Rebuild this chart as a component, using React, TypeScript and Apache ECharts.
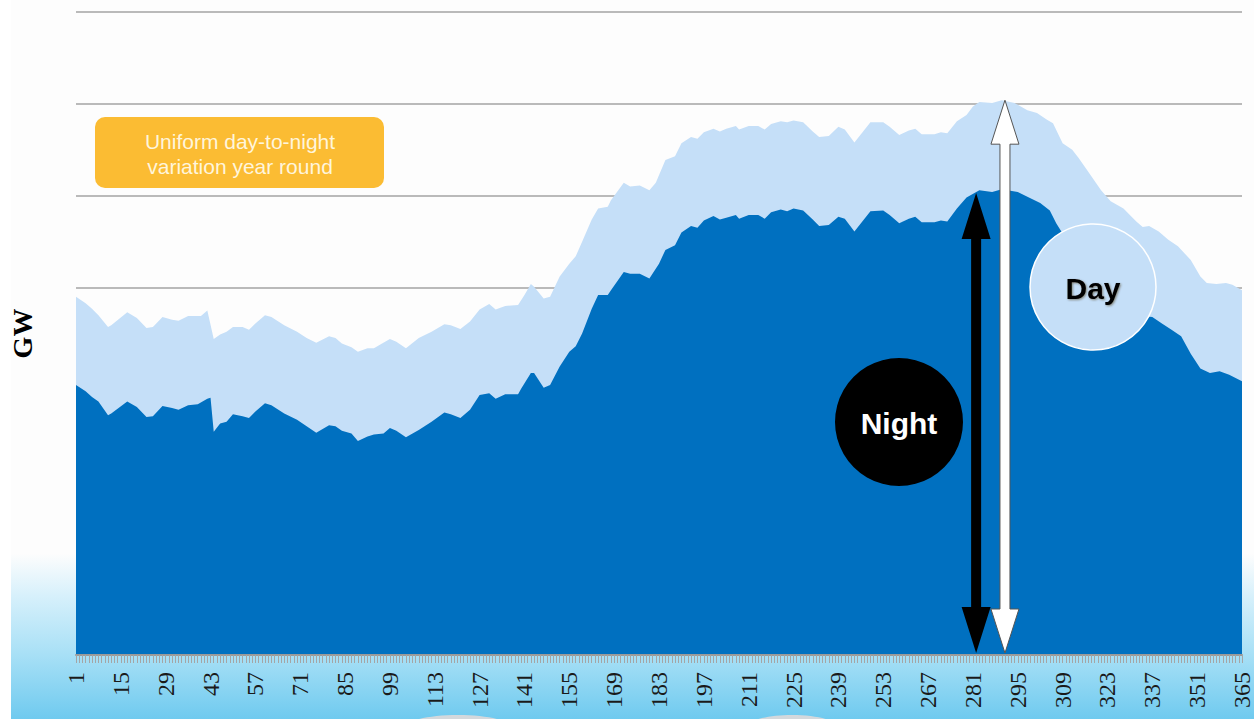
import React, { useEffect, useRef } from "react";
import * as echarts from "echarts";

// Categories: day of year
const dayCategories: string[] = Array.from({ length: 365 }, (_, i) => String(i + 1));

// Night-time demand (GW), [day, value]
const nightPoints: [number, number][] = [
  [1, 29.4], [4, 28.7], [6, 28.1], [8, 27.6], [11, 26.1], [12, 26.3], [17, 27.6], [20, 27.0],
  [23, 25.9], [25, 26.0], [28, 27.1], [31, 26.9], [33, 26.7], [36, 27.2], [39, 27.3], [42, 27.9],
  [43, 28.0], [44, 24.3], [46, 25.2], [48, 25.4], [50, 26.2], [53, 26.0], [55, 25.8], [57, 26.5],
  [60, 27.4], [62, 27.2], [66, 26.3], [70, 25.6], [73, 24.9], [76, 24.2], [80, 25.0], [82, 24.9],
  [84, 24.4], [87, 24.1], [89, 23.3], [92, 23.8], [94, 24.0], [97, 24.1], [99, 24.7], [101, 24.4],
  [104, 23.7], [108, 24.5], [112, 25.4], [116, 26.4], [118, 26.2], [121, 25.8], [124, 26.7], [127, 28.3],
  [130, 28.5], [132, 27.9], [135, 28.4], [139, 28.4], [140, 29.0], [143, 30.7], [144, 30.7], [147, 29.1],
  [149, 29.4], [152, 31.4], [155, 33.0], [157, 33.6], [159, 35.0], [162, 37.7], [164, 39.2], [167, 39.2],
  [168, 39.7], [172, 41.7], [174, 41.5], [177, 41.5], [180, 41.0], [183, 42.6], [185, 44.1], [188, 44.6],
  [190, 46.0], [193, 46.7], [195, 46.5], [197, 47.3], [200, 47.8], [202, 47.4], [204, 47.6], [207, 47.9],
  [208, 47.5], [211, 47.9], [214, 47.9], [216, 47.5], [218, 48.2], [221, 48.5], [223, 48.3], [225, 48.6],
  [228, 48.4], [231, 47.4], [233, 46.7], [236, 46.8], [239, 47.7], [241, 47.5], [244, 46.1], [249, 48.3],
  [253, 48.4], [255, 47.9], [258, 47.0], [261, 47.5], [263, 47.7], [265, 47.1], [269, 47.1], [271, 47.3],
  [273, 47.2], [276, 48.6], [279, 49.8], [283, 50.6], [287, 50.4], [290, 50.7], [295, 50.4], [298, 49.9],
  [302, 49.2], [305, 48.4], [307, 47.0], [309, 45.9], [312, 45.2], [314, 44.3], [317, 42.9], [321, 40.9],
  [324, 39.6], [328, 39.0], [332, 37.5], [334, 36.9], [337, 36.8], [340, 36.1], [343, 35.4], [346, 34.7],
  [349, 32.8], [352, 31.2], [355, 30.7], [358, 30.9], [361, 30.5], [365, 29.8],
];

// Day-time demand (GW), [day, value]
const dayPoints: [number, number][] = [
  [1, 39.0], [4, 38.3], [6, 37.7], [8, 37.0], [11, 35.7], [12, 35.9], [17, 37.3], [20, 36.7],
  [23, 35.6], [25, 35.7], [28, 36.8], [31, 36.5], [33, 36.4], [36, 36.9], [40, 36.9], [42, 37.5],
  [44, 34.4], [46, 34.9], [48, 35.2], [50, 35.7], [53, 35.7], [55, 35.4], [57, 36.1], [60, 37.0],
  [62, 36.8], [66, 35.9], [70, 35.2], [73, 34.5], [76, 34.0], [80, 34.7], [82, 34.5], [84, 33.9],
  [87, 33.5], [89, 33.0], [92, 33.4], [94, 33.4], [96, 33.8], [99, 34.4], [101, 34.1], [104, 33.4],
  [108, 34.5], [112, 35.2], [116, 36.0], [118, 35.9], [121, 35.5], [124, 36.3], [127, 37.6], [130, 38.2],
  [132, 37.6], [135, 38.0], [139, 38.1], [141, 39.2], [143, 40.4], [144, 40.1], [147, 38.8], [149, 39.0],
  [152, 41.2], [155, 42.6], [157, 43.4], [159, 45.0], [162, 47.4], [164, 48.6], [167, 48.8], [168, 49.5],
  [172, 51.4], [174, 51.0], [177, 51.1], [180, 50.6], [182, 51.4], [185, 53.9], [188, 54.3], [190, 55.7],
  [193, 56.4], [195, 56.2], [197, 56.9], [200, 57.3], [202, 57.0], [204, 57.3], [207, 57.6], [208, 57.2],
  [211, 57.6], [214, 57.6], [216, 57.2], [218, 57.8], [221, 58.1], [223, 58.0], [225, 58.2], [228, 58.0],
  [231, 57.0], [233, 56.4], [236, 56.5], [239, 57.5], [241, 57.2], [244, 55.8], [249, 58.0], [253, 58.0],
  [255, 57.5], [258, 56.6], [261, 57.1], [263, 57.3], [265, 56.7], [269, 56.7], [271, 56.9], [273, 56.8],
  [276, 58.1], [279, 58.8], [281, 59.7], [283, 60.2], [287, 60.1], [290, 60.4], [294, 60.1], [298, 59.3],
  [301, 59.0], [304, 58.3], [306, 57.9], [309, 55.7], [312, 55.0], [314, 54.1], [317, 52.6], [321, 50.6],
  [324, 49.4], [328, 48.6], [332, 47.2], [334, 46.6], [336, 46.7], [339, 46.1], [342, 45.2], [345, 44.5],
  [349, 43.0], [352, 41.2], [354, 40.5], [357, 40.4], [360, 40.5], [362, 40.3], [365, 39.7],
];

// Annotation arrows: [day, top value]
const nightArrow: [number, number] = [282, 50.3];
const dayArrow: [number, number] = [291, 60.4];

const Y_MAX = 70;
const Y_INTERVAL = 10;

function arrowPoints(cx: number, yTop: number, yBottom: number, shaftHalf: number, headHalf: number, headLen: number) {
  return [
    [cx, yTop],
    [cx + headHalf, yTop + headLen],
    [cx + shaftHalf, yTop + headLen],
    [cx + shaftHalf, yBottom - headLen],
    [cx + headHalf, yBottom - headLen],
    [cx, yBottom],
    [cx - headHalf, yBottom - headLen],
    [cx - shaftHalf, yBottom - headLen],
    [cx - shaftHalf, yTop + headLen],
    [cx - headHalf, yTop + headLen],
  ];
}

export default function App() {
  const ref = useRef<HTMLDivElement>(null);

  useEffect(() => {
    if (!ref.current) return;
    const chart = echarts.init(ref.current, undefined, { renderer: "svg" });
    const sans = "'Liberation Sans', Arial, sans-serif";
    const serif = "'Liberation Serif', 'Times New Roman', serif";

    chart.setOption({
      animation: false,
      backgroundColor: "transparent",
      grid: { left: 74, right: 11, top: 12, bottom: 64, containLabel: false },
      xAxis: {
        type: "category",
        data: dayCategories,
        boundaryGap: false,
        z: 10,
        axisLine: { lineStyle: { color: "#9a9a9a", width: 2 } },
        axisTick: { interval: 0, length: 8, lineStyle: { color: "#a5a5a5", width: 1 } },
        axisLabel: {
          interval: 13,
          rotate: 90,
          margin: 17,
          fontFamily: serif,
          fontSize: 24,
          color: "#1a1a1a",
        },
        splitLine: { show: false },
      },
      yAxis: {
        type: "value",
        min: 0,
        max: Y_MAX,
        interval: Y_INTERVAL,
        name: "GW",
        nameLocation: "middle",
        nameRotate: 90,
        nameGap: 40,
        nameTextStyle: {
          fontFamily: serif,
          fontWeight: "bold",
          fontSize: 28,
          color: "#000",
        },
        axisLabel: { show: false },
        axisLine: { show: false },
        axisTick: { show: false },
        splitLine: { lineStyle: { color: "#a3a3a3", width: 1.5 } },
      },
      series: [
        {
          type: "line",
          name: "Day",
          data: dayPoints.map(([d, v]) => [String(d), v]),
          symbol: "none",
          lineStyle: { width: 0, opacity: 0 },
          areaStyle: { color: "#c5dff8", opacity: 1 },
          z: 2,
        },
        {
          type: "line",
          name: "Night",
          data: nightPoints.map(([d, v]) => [String(d), v]),
          symbol: "none",
          lineStyle: { width: 0, opacity: 0 },
          areaStyle: { color: "#0070c0", opacity: 1 },
          z: 3,
        },
      ],
    });

    const finder = { xAxisIndex: 0, yAxisIndex: 0 };
    const nTop = chart.convertToPixel(finder, [String(nightArrow[0]), nightArrow[1]]) as number[];
    const nBot = chart.convertToPixel(finder, [String(nightArrow[0]), 0]) as number[];
    const dTop = chart.convertToPixel(finder, [String(dayArrow[0]), dayArrow[1]]) as number[];
    const dBot = chart.convertToPixel(finder, [String(dayArrow[0]), 0]) as number[];

    chart.setOption({
      graphic: [
        {
          type: "ellipse",
          shape: { cx: 458, cy: 727, rx: 52, ry: 12 },
          style: { fill: "#d3d8dc" },
          z: 1,
        },
        {
          type: "ellipse",
          shape: { cx: 792, cy: 727, rx: 45, ry: 12 },
          style: { fill: "#d3d8dc" },
          z: 1,
        },
        {
          type: "group",
          z: 50,
          children: [
            {
              type: "rect",
              shape: { x: 95, y: 117, width: 289, height: 71, r: 10 },
              style: { fill: "#fbbc33" },
            },
            {
              type: "text",
              x: 240,
              y: 154,
              style: {
                text: "Uniform day-to-night\nvariation year round",
                fill: "#fff5dc",
                font: `21px ${sans}`,
                lineHeight: 25,
                textAlign: "center",
                textVerticalAlign: "middle",
              },
            },
          ],
        },
        {
          type: "polygon",
          z: 40,
          shape: { points: arrowPoints(nTop[0], nTop[1], nBot[1] - 2, 5, 14.5, 46) },
          style: { fill: "#000" },
        },
        {
          type: "polygon",
          z: 41,
          shape: { points: arrowPoints(dTop[0], dTop[1], dBot[1] - 2, 5, 14, 44) },
          style: { fill: "#fff", stroke: "#555", lineWidth: 1 },
        },
        {
          type: "circle",
          z: 45,
          shape: { cx: 899, cy: 422, r: 64 },
          style: { fill: "#000" },
        },
        {
          type: "text",
          z: 46,
          x: 899,
          y: 423,
          style: {
            text: "Night",
            fill: "#fff",
            font: `bold 30px ${sans}`,
            textAlign: "center",
            textVerticalAlign: "middle",
          },
        },
        {
          type: "circle",
          z: 45,
          shape: { cx: 1093, cy: 287, r: 63 },
          style: { fill: "#c5dff8", stroke: "#ffffff", lineWidth: 1.5 },
        },
        {
          type: "text",
          z: 46,
          x: 1093,
          y: 288,
          style: {
            text: "Day",
            fill: "#000",
            font: `bold 30px ${sans}`,
            textAlign: "center",
            textVerticalAlign: "middle",
            textShadowColor: "rgba(60,40,0,0.5)",
            textShadowBlur: 2,
            textShadowOffsetX: 1,
            textShadowOffsetY: 1,
          },
        },
      ],
    });

    return () => chart.dispose();
  }, []);

  return (
    <div
      style={{
        position: "fixed",
        left: 0,
        top: 0,
        width: 1254,
        height: 719,
        background:
          "linear-gradient(to right, #ffffff 0px, #ffffff 11px, rgba(255,255,255,0) 11px), linear-gradient(to bottom, #fdfdfd 0%, #fdfdfd 77%, #d6f0fb 83%, #a8e0f6 91%, #6fcaef 100%)",
      }}
    >
      <div ref={ref} style={{ width: 1254, height: 719 }} />
    </div>
  );
}
